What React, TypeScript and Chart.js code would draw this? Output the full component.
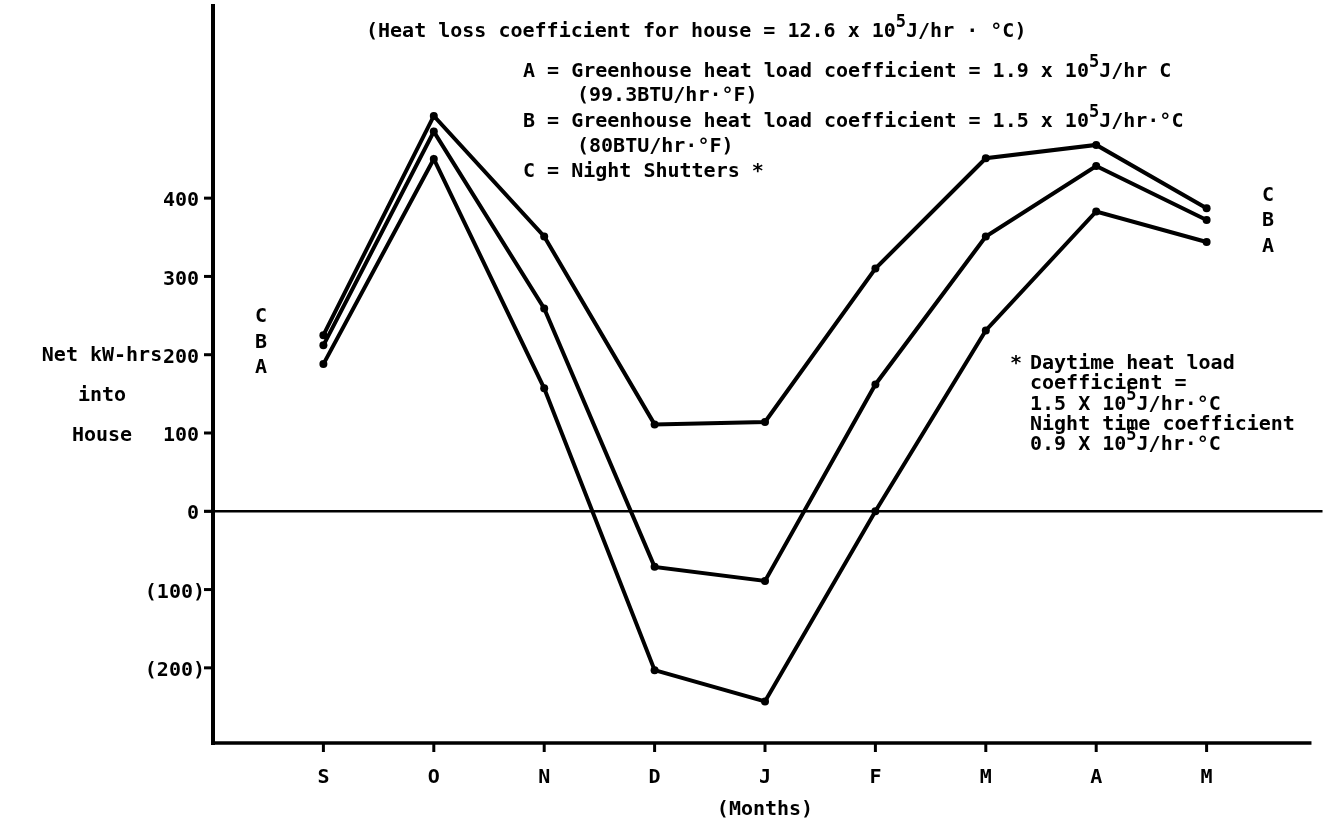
import React, { useEffect, useRef } from "react";
import { Chart, registerables } from "chart.js";
Chart.register(...registerables);

const months = ["S", "O", "N", "D", "J", "F", "M", "A", "M"];
const seriesC = [225, 505, 351, 111, 114, 310, 451, 468, 387];
const seriesB = [212, 485, 259, -71, -89, 162, 351, 441, 372];
const seriesA = [188, 450, 157, -203, -243, 0, 231, 383, 344];
const yTickValues = [400, 300, 200, 100, 0, -100, -200];
const yTickLabels = ["400", "300", "200", "100", "0", "(100)", "(200)"];
const yTitle = ["Net kW-hrs", "into", "House"];
const xTitle = "(Months)";

const FONT_FAMILY = "'DejaVu Sans Mono', 'Liberation Mono', monospace";

type Part = [string, boolean];

function drawRich(ctx: CanvasRenderingContext2D, x: number, y: number, parts: Part[], size = 20) {
  let cx = x;
  for (const [t, sup] of parts) {
    ctx.font = `bold ${sup ? Math.round(size * 0.85) : size}px ${FONT_FAMILY}`;
    ctx.fillText(t, cx, sup ? y - 9 : y);
    cx += ctx.measureText(t).width;
  }
}

const overlay = {
  id: "overlay",
  afterDraw(chart: any) {
    const ctx: CanvasRenderingContext2D = chart.ctx;
    const xs = chart.scales.x;
    const ys = chart.scales.y;
    const left = xs.getPixelForValue(-1);
    const bottom = ys.getPixelForValue(ys.min);
    const top = ys.getPixelForValue(ys.max);
    ctx.save();
    ctx.strokeStyle = "#000";
    ctx.fillStyle = "#000";
    ctx.lineCap = "butt";

    // y axis
    ctx.lineWidth = 4;
    ctx.beginPath();
    ctx.moveTo(left, top);
    ctx.lineTo(left, bottom + 2);
    ctx.stroke();
    // x axis
    ctx.lineWidth = 3.5;
    ctx.beginPath();
    ctx.moveTo(left - 2, bottom);
    ctx.lineTo(xs.getPixelForValue(8.95), bottom);
    ctx.stroke();
    // zero line
    ctx.lineWidth = 2.5;
    const y0 = ys.getPixelForValue(0);
    ctx.beginPath();
    ctx.moveTo(left - 9, y0);
    ctx.lineTo(xs.getPixelForValue(9.05), y0);
    ctx.stroke();

    // y ticks + labels
    ctx.lineWidth = 3;
    ctx.textBaseline = "middle";
    ctx.textAlign = "right";
    ctx.font = `bold 20px ${FONT_FAMILY}`;
    yTickValues.forEach((v, i) => {
      const py = ys.getPixelForValue(v);
      ctx.beginPath();
      ctx.moveTo(left - 9, py);
      ctx.lineTo(left, py);
      ctx.stroke();
      const lbl = yTickLabels[i];
      ctx.fillText(lbl, lbl.startsWith("(") ? left - 8 : left - 14, py + 3);
    });

    // x ticks + labels
    ctx.textAlign = "center";
    months.forEach((m, i) => {
      const px = xs.getPixelForValue(i);
      ctx.beginPath();
      ctx.moveTo(px, bottom);
      ctx.lineTo(px, bottom + 9);
      ctx.stroke();
      ctx.fillText(m, px, bottom + 35);
    });
    ctx.fillText(xTitle, xs.getPixelForValue(4), bottom + 67);

    // y title
    yTitle.forEach((t, i) => {
      ctx.fillText(t, 102, ys.getPixelForValue(200) + 1 + i * 40);
    });

    // series labels left and right
    ctx.fillText("C", 261, 317);
    ctx.fillText("B", 261, 343);
    ctx.fillText("A", 261, 368);
    ctx.fillText("C", 1268, 196);
    ctx.fillText("B", 1268, 221);
    ctx.fillText("A", 1268, 247);

    // header notes
    ctx.textAlign = "left";
    drawRich(ctx, 366, 32, [["(Heat loss coefficient for house = 12.6 x 10", false], ["5", true], ["J/hr · °C)", false]]);
    drawRich(ctx, 523, 72, [["A = Greenhouse heat load coefficient = 1.9 x 10", false], ["5", true], ["J/hr C", false]]);
    drawRich(ctx, 577, 96, [["(99.3BTU/hr·°F)", false]]);
    drawRich(ctx, 523, 122, [["B = Greenhouse heat load coefficient = 1.5 x 10", false], ["5", true], ["J/hr·°C", false]]);
    drawRich(ctx, 577, 147, [["(80BTU/hr·°F)", false]]);
    drawRich(ctx, 523, 172, [["C = Night Shutters *", false]]);

    // daytime note
    drawRich(ctx, 1010, 364, [["*", false]]);
    drawRich(ctx, 1030, 364, [["Daytime heat load", false]]);
    drawRich(ctx, 1030, 384, [["coefficient =", false]]);
    drawRich(ctx, 1030, 405, [["1.5 X 10", false], ["5", true], ["J/hr·°C", false]]);
    drawRich(ctx, 1030, 425, [["Night time coefficient", false]]);
    drawRich(ctx, 1030, 445, [["0.9 X 10", false], ["5", true], ["J/hr·°C", false]]);

    ctx.restore();
  },
};

const toPoints = (arr: number[]) => arr.map((v, i) => ({ x: i, y: v }));

export default function App() {
  const ref = useRef<HTMLCanvasElement | null>(null);
  useEffect(() => {
    document.body.style.margin = "0";
    const ds = (label: string, data: number[]) => ({
      label,
      data: toPoints(data),
      borderColor: "#000",
      backgroundColor: "#000",
      borderWidth: 4,
      pointRadius: 4,
      pointBackgroundColor: "#000",
      pointBorderWidth: 0,
      tension: 0,
      clip: false as any,
    });
    const chart = new Chart(ref.current as HTMLCanvasElement, {
      type: "line",
      data: {
        datasets: [ds("C", seriesC), ds("B", seriesB), ds("A", seriesA)],
      },
      options: {
        responsive: false,
        animation: false,
        devicePixelRatio: 1,
        layout: { padding: { left: 213, right: 15, top: 0, bottom: 85 } },
        plugins: { legend: { display: false }, tooltip: { enabled: false } },
        scales: {
          x: { type: "linear", min: -1, max: 9, display: false },
          y: { type: "linear", min: -296, max: 648, display: false },
        },
      },
      plugins: [overlay],
    });
    return () => chart.destroy();
  }, []);
  return (
    <div style={{ position: "fixed", left: 0, top: 0, width: 1332, height: 828, background: "#fff" }}>
      <canvas ref={ref} width={1332} height={828} style={{ display: "block" }} />
    </div>
  );
}
